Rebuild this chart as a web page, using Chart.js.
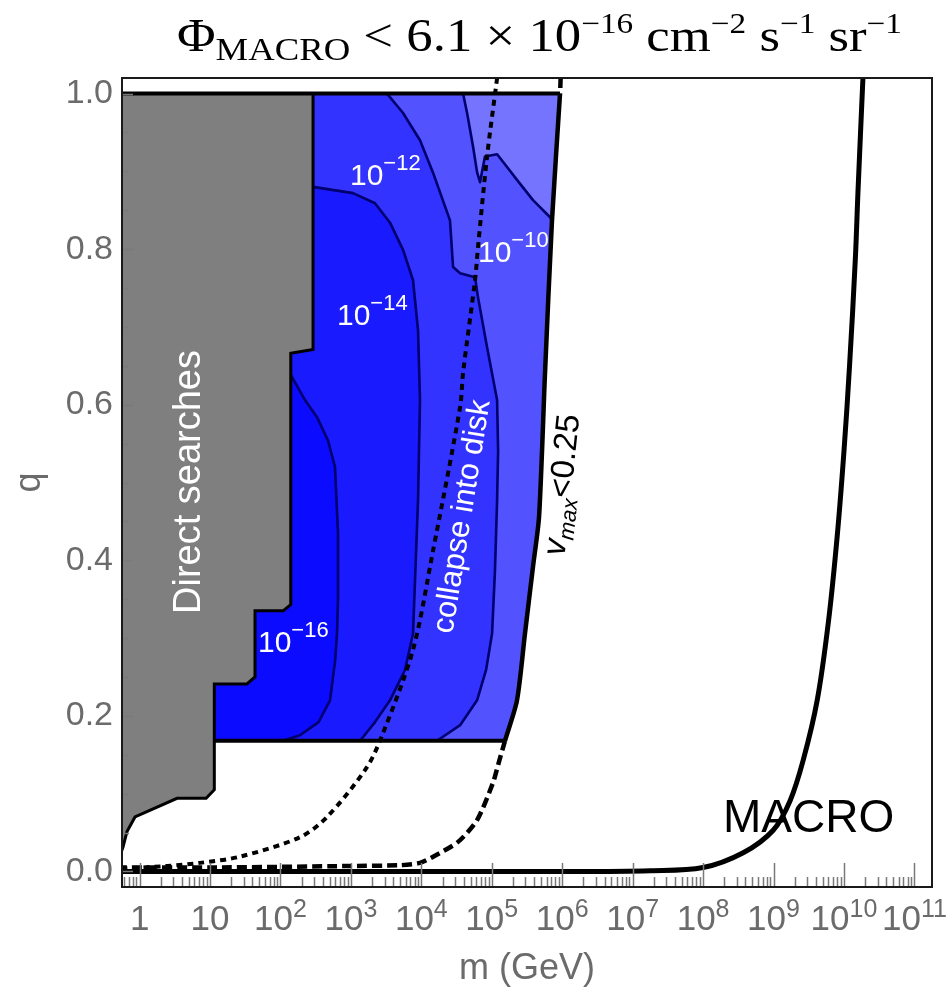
<!DOCTYPE html>
<html>
<head>
<meta charset="utf-8">
<title>MACRO flux bound</title>
<script src="https://cdn.jsdelivr.net/npm/chart.js@4.4.1/dist/chart.umd.min.js"></script>
<style>
  html, body { margin: 0; padding: 0; background: #fff; }
  canvas { display: block; }
</style>
</head>
<body>
<canvas id="myChart" width="950" height="997"></canvas>
<script>
// m in GeV, q = charge fraction
const xTickExp = [0, 1, 2, 3, 4, 5, 6, 7, 8, 9, 10, 11];
const yTicks = [0, 0.2, 0.4, 0.6, 0.8, 1.0];

// gray: excluded by direct searches
const directM = [0.5, 290, 290, 140, 140, 109, 43.5, 43.5, 33.4, 11.5, 11.5, 8.8, 3.4, 0.86, 0.66, 0.58, 0.5];
const directQ = [1.0, 1.0, 0.671, 0.666, 0.343, 0.335, 0.335, 0.250, 0.241, 0.241, 0.105, 0.094, 0.094, 0.070, 0.051, 0.031, 0.015];

// edges of the shaded band
const qTop = 1.0;
const qBottom = 0.168;

// v_max < 0.25 boundary
const vmaxM = [9.5e5, 9.31e5, 7.16e5, 5.70e5, 4.69e5, 3.85e5, 2.96e5, 2.28e5, 1.54e5, 1.23e5, 1.04e5, 6.18e4, 3.32e4, 1.47e4, 9570, 4980, 1000, 10, 0.5];
const vmaxQ = [1.02, 1.0, 0.837, 0.641, 0.456, 0.392, 0.306, 0.220, 0.168, 0.137, 0.114, 0.066, 0.038, 0.019, 0.011, 0.008, 0.007, 0.005, 0.005];

// collapse into disk
const diskM = [1.19e5, 8.57e4, 6.38e4, 5.78e4, 3.91e4, 3.55e4, 1.47e4, 7620, 2860, 1690, 458, 189, 26.7, 7.2, 2.45, 0.62, 0.5];
const diskQ = [1.02, 0.919, 0.803, 0.760, 0.641, 0.597, 0.413, 0.285, 0.178, 0.134, 0.070, 0.044, 0.019, 0.011, 0.007, 0.004, 0.004];

// MACRO limit
const macroM = [0.5, 1e6, 1.77e7, 1e8, 3.71e8, 9.89e8, 1.72e9, 2.64e9, 4.17e9, 6e9, 8e9, 1.0e10, 1.2e10, 1.45e10, 1.58e10, 1.86e10];
const macroQ = [0, 0, 0.001, 0.005, 0.024, 0.053, 0.091, 0.143, 0.220, 0.32, 0.43, 0.54, 0.65, 0.787, 0.873, 1.02];

// flux contours, innermost first
const c1M = [141, 223, 330, 473, 594, 656, 656, 635, 597, 505, 347, 189, 109];
const c1Q = [0.638, 0.606, 0.584, 0.554, 0.520, 0.435, 0.349, 0.306, 0.271, 0.220, 0.192, 0.175, 0.168];
const c2M = [290, 1070, 2200, 3590, 5500, 7620, 8970, 9570, 8970, 7620, 5860, 3590, 2200, 1350];
const c2Q = [0.880, 0.872, 0.859, 0.834, 0.799, 0.760, 0.696, 0.606, 0.477, 0.306, 0.259, 0.220, 0.192, 0.168];
const c3M = [3250, 5500, 9570, 14700, 25500, 28200, 35500, 57800, 63800, 85700, 1.19e5, 1.23e5, 1.19e5, 1.11e5, 1.01e5, 8.3e4, 6.18e4, 3.55e4, 1.67e4];
const c3Q = [1.0, 0.975, 0.940, 0.898, 0.837, 0.777, 0.769, 0.764, 0.738, 0.674, 0.606, 0.541, 0.477, 0.387, 0.306, 0.259, 0.220, 0.188, 0.168];
const c4M = [39100, 44600, 54200, 61800, 68100, 80000, 1.19e5, 1.70e5, 2.28e5, 3.85e5, 6.73e5, 7.16e5];
const c4Q = [1.0, 0.975, 0.932, 0.899, 0.886, 0.919, 0.922, 0.904, 0.889, 0.863, 0.841, 0.837];

// shades from lowest flux (inside) to highest
const shades = ['#0b0bff', '#1a1aff', '#3333ff', '#5252ff', '#7474ff'];
const contourLabels = [
  {x: 258, y: 652, exp: '−16'},
  {x: 337, y: 325, exp: '−14'},
  {x: 350, y: 185, exp: '−12'},
  {x: 478, y: 262, exp: '−10'}
];

const sans = '"Liberation Sans", Arial, sans-serif';
const serif = '"Liberation Serif", "Times New Roman", serif';
const axisGrey = '#6b6b6b';

const pts = (ms, qs) => ms.map((m, i) => ({x: m, y: qs[i]}));
const leftM = 8; // hidden under the gray block

const vmaxSolid = pts(vmaxM, vmaxQ).filter(p => p.y <= qTop && p.y >= qBottom);
const c4 = pts(c4M, c4Q);
const regionPts = [
  [{x: leftM, y: c1Q[0]}, ...pts(c1M, c1Q), {x: leftM, y: qBottom}],
  [{x: leftM, y: c2Q[0]}, ...pts(c2M, c2Q), {x: leftM, y: qBottom}],
  [{x: leftM, y: qTop}, ...pts(c3M, c3Q), {x: leftM, y: qBottom}],
  [{x: leftM, y: qTop}, ...c4, ...vmaxSolid.filter(p => p.y < c4[c4.length - 1].y), {x: leftM, y: qBottom}],
  [{x: leftM, y: qTop}, ...vmaxSolid, {x: leftM, y: qBottom}]
];

function area(data, color, order) {
  return {data, showLine: true, fill: 'shape', backgroundColor: color,
    borderColor: 'rgba(0,0,0,0)', borderWidth: 0, pointRadius: 0, order};
}
function curve(data, color, width, order, extra) {
  return Object.assign({data, showLine: true, fill: false, borderColor: color,
    borderWidth: width, pointRadius: 0, order, borderJoinStyle: 'round'}, extra || {});
}

// lower order is painted on top, so the innermost shade gets the lowest
const datasets = [];
regionPts.forEach((r, i) => datasets.push(area(r, shades[i], 16 + i)));
[[c1M, c1Q], [c2M, c2Q], [c3M, c3Q], [c4M, c4Q]].forEach(([m, q]) =>
  datasets.push(curve(pts(m, q), '#00006e', 2.6, 10)));
datasets.push(Object.assign(area(pts(directM, directQ), '#7f7f7f', 8), {borderColor: '#000', borderWidth: 3}));
datasets.push(curve(pts(diskM, diskQ), '#000', 4, 6, {borderDash: [6, 5], tension: 0.3}));
datasets.push(curve([{x: 0.5, y: qTop}, vmaxSolid[0]], '#000', 4, 5));
datasets.push(curve([{x: 11.5, y: qBottom}, {x: vmaxSolid[vmaxSolid.length - 1].x, y: qBottom}], '#000', 4, 5));
datasets.push(curve(pts(vmaxM, vmaxQ), '#000', 4.5, 4, {
  tension: 0.25,
  segment: {
    borderDash: c => (c.p0.parsed.y > qTop + 1e-9 || c.p1.parsed.y < qBottom - 1e-9) ? [10, 5] : undefined
  }
}));
datasets.push(curve(pts(macroM, macroQ), '#000', 5, 3, {tension: 0.35}));

function powText(ctx, x, y, base, exp, size, expSize, rise, center) {
  ctx.font = `${size}px ${sans}`;
  const wb = ctx.measureText(base).width;
  ctx.font = `${expSize}px ${sans}`;
  const we = exp ? ctx.measureText(exp).width : 0;
  const x0 = center ? x - (wb + we) / 2 : x;
  ctx.textAlign = 'left';
  ctx.font = `${size}px ${sans}`;
  ctx.fillText(base, x0, y);
  if (exp) {
    ctx.font = `${expSize}px ${sans}`;
    ctx.fillText(exp, x0 + wb, y - rise);
  }
}

function runText(ctx, parts, x, y) {
  // parts: [text, font, dy]; only measures when x is null
  let w = 0;
  for (const [t, f, dy] of parts) {
    ctx.font = f;
    if (x !== null) ctx.fillText(t, x + w, y + (dy || 0));
    w += ctx.measureText(t).width;
  }
  return w;
}

const decor = {
  id: 'decor',
  afterDatasetsDraw(chart) {
    const {ctx, chartArea: a, scales: {x, y}} = chart;
    ctx.save();

    // inner tick marks
    ctx.strokeStyle = '#7a7a7a';
    ctx.lineWidth = 1.5;
    ctx.beginPath();
    for (let e = -1; e <= 11; e++) {
      for (let j = 1; j < 10; j++) {
        const v = j * Math.pow(10, e);
        if (v < x.min || v > x.max) continue;
        const px = Math.round(x.getPixelForValue(v)) + 0.5;
        const len = (j === 1 && xTickExp.includes(e)) ? 24 : 10;
        ctx.moveTo(px, a.bottom);
        ctx.lineTo(px, a.bottom - len);
      }
    }
    for (let k = 0; k <= 20; k++) {
      const v = k * 0.05;
      const py = Math.round(y.getPixelForValue(v)) + 0.5;
      const len = k % 4 === 0 ? 11 : 7;
      ctx.moveTo(a.left, py);
      ctx.lineTo(a.left + len, py);
    }
    ctx.stroke();

    // frame
    ctx.strokeStyle = '#1a1a1a';
    ctx.lineWidth = 2;
    ctx.strokeRect(a.left, a.top, a.width, a.height);

    // x tick labels
    ctx.fillStyle = axisGrey;
    ctx.textBaseline = 'alphabetic';
    for (const e of xTickExp) {
      const px = x.getPixelForValue(Math.pow(10, e));
      if (e === 0) powText(ctx, px, 930, '1', '', 35, 25, 0, true);
      else if (e === 1) powText(ctx, px, 930, '10', '', 35, 25, 0, true);
      else powText(ctx, px, 930, '10', String(e), 35, 25, 13, true);
    }

    // contour values
    ctx.fillStyle = '#fff';
    for (const l of contourLabels) powText(ctx, l.x, l.y, '10', l.exp, 30, 22, 15, false);

    // region names
    ctx.save();
    ctx.translate(200, 482);
    ctx.rotate(-Math.PI / 2);
    ctx.font = `38px ${sans}`;
    ctx.textAlign = 'center';
    ctx.fillText('Direct searches', 0, 0);
    ctx.restore();

    ctx.save();
    ctx.translate(471, 518);
    ctx.rotate(-80.9 * Math.PI / 180);
    ctx.font = `31px ${sans}`;
    ctx.textAlign = 'center';
    ctx.fillText('collapse into disk', 0, 0);
    ctx.restore();

    ctx.save();
    ctx.fillStyle = '#000';
    ctx.translate(572, 486);
    ctx.rotate(-84 * Math.PI / 180);
    ctx.textAlign = 'left';
    const vParts = [['v', `italic 33px ${sans}`, 0], ['max', `italic 22px ${sans}`, 7], ['<0.25', `33px ${sans}`, 0]];
    const vw = runText(ctx, vParts, null, 0);
    runText(ctx, vParts, -vw / 2, 0);
    ctx.restore();

    ctx.fillStyle = '#000';
    ctx.font = `46px ${sans}`;
    ctx.textAlign = 'left';
    ctx.fillText('MACRO', 723, 832);

    ctx.restore();
  },
  afterDraw(chart) {
    const {ctx} = chart;
    ctx.save();
    ctx.fillStyle = '#000';
    ctx.textAlign = 'left';
    ctx.textBaseline = 'alphabetic';
    const big = `46px ${serif}`, sub = `32px ${serif}`, sup = `29px ${serif}`;
    const parts = [
      ['Φ', big, 0], ['MACRO', sub, 9], [' < 6.1 × 10', big, 0], ['−16', sup, -18],
      [' cm', big, 0], ['−2', sup, -18], [' s', big, 0], ['−1', sup, -18],
      [' sr', big, 0], ['−1', sup, -18]
    ];
    // the title is set a little wider than the serif face gives
    const w = runText(ctx, parts, null, 0);
    ctx.translate(177, 0);
    ctx.scale(725 / w, 1);
    runText(ctx, parts, 0, 51);
    ctx.restore();
  }
};

new Chart(document.getElementById('myChart'), {
  type: 'scatter',
  data: {datasets},
  options: {
    responsive: false,
    animation: false,
    devicePixelRatio: 1,
    events: [],
    layout: {padding: {top: 78, right: 18, left: 0, bottom: 0}},
    plugins: {legend: {display: false}, tooltip: {enabled: false}},
    elements: {line: {tension: 0}},
    scales: {
      x: {
        type: 'logarithmic',
        min: Math.pow(10, -0.25),
        max: Math.pow(10, 11.25),
        grid: {display: false, drawTicks: false},
        border: {display: false},
        ticks: {display: false},
        afterBuildTicks: s => { s.ticks = xTickExp.map(e => ({value: Math.pow(10, e)})); },
        afterFit: s => { s.height = 110; },
        title: {display: true, text: 'm (GeV)', color: axisGrey,
          font: {family: sans, size: 36}, padding: {top: 0, bottom: 6}}
      },
      y: {
        min: -0.02,
        max: 1.02,
        grid: {display: false, drawTicks: false},
        border: {display: false},
        afterBuildTicks: s => { s.ticks = yTicks.map(v => ({value: v})); },
        afterFit: s => { s.width = 122; },
        ticks: {color: axisGrey, font: {family: sans, size: 34}, padding: 9,
          callback: v => Number(v).toFixed(1)},
        title: {display: true, text: 'q', color: axisGrey,
          font: {family: sans, size: 36}, padding: {top: 8, bottom: 0}}
      }
    }
  },
  plugins: [decor]
});
</script>
</body>
</html>
